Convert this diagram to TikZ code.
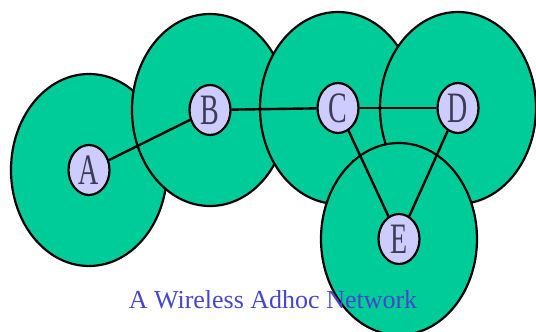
\documentclass[tikz,border=0pt]{standalone}
\usepackage{fontspec}
\setmainfont{Liberation Serif}
\usepackage{graphicx}
\usepackage{tikz}
\usetikzlibrary{shapes.geometric}
\definecolor{rangegreen}{RGB}{0,204,153}
\definecolor{hostlilac}{RGB}{204,204,255}
\definecolor{hostink}{RGB}{60,60,85}
\definecolor{captionblue}{RGB}{70,70,205}

\begin{document}
\begin{tikzpicture}[
			x=1pt, y=1pt,
			cover/.style={draw=black, line width=2.2pt, fill=rangegreen},
			host/.style={ellipse, draw=black, line width=2.2pt, fill=hostlilac, minimum width=41pt, minimum height=50pt, inner sep=0pt, text=hostink, font=\fontsize{28}{28}\selectfont},
			link/.style={line width=2.4pt},
			title/.style={font=\fontsize{26}{26}\selectfont, text=captionblue, anchor=base}
			]
			\useasboundingbox (0,0) rectangle (536,-332);
			\clip (0,0) rectangle (536,-332);
			\coordinate (pA) at (89,-170);
			\coordinate (pB) at (210,-110);
			\coordinate (pC) at (338,-108);
			\coordinate (pD) at (458,-108);
			\coordinate (pE) at (399,-239);
			\foreach \n in {A,B,C,D,E} {\draw[cover] (p\n) ellipse [x radius=78, y radius=96];}
			\foreach \n in {A,B,C,D,E} {\node[host] (\n) at (p\n) {\scalebox{1}[1.55]{\n}};}
			\foreach \u/\v in {A/B,B/C,C/D,C/E,D/E} {\draw[link] (\u) -- (\v);}
			\node[title] (caption) at (273,-308) {A Wireless Adhoc Network};
		\end{tikzpicture}
\end{document}
